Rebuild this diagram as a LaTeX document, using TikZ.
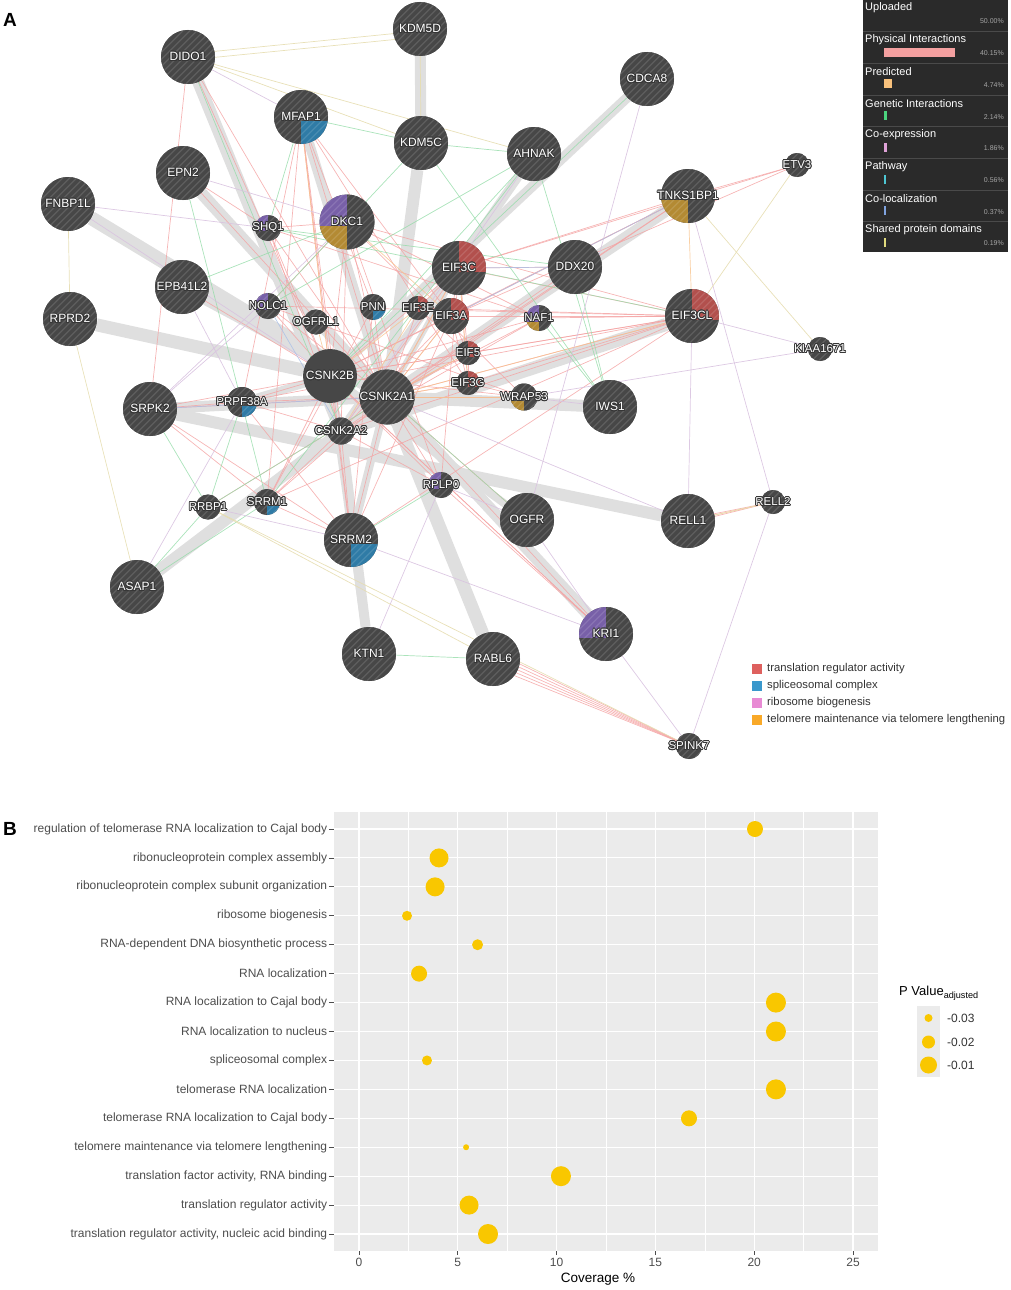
\documentclass[tikz,border=0pt]{standalone}
\usepackage{fontspec}
\setmainfont{Liberation Sans}
\usepackage[copies]{contour}
\contourlength{0.8pt}
\usetikzlibrary{backgrounds}

\definecolor{nodegray}{HTML}{474747}
\definecolor{halo}{HTML}{363636}
\definecolor{bandgray}{HTML}{DFDFDF}
\definecolor{physc}{HTML}{F4A3A3}
\definecolor{predc}{HTML}{F8C48E}
\definecolor{genetc}{HTML}{95DCA9}
\definecolor{coexpc}{HTML}{D9C3E0}
\definecolor{colocc}{HTML}{A9C0E8}
\definecolor{domainc}{HTML}{E6DDB0}
\definecolor{qred}{HTML}{B2504D}
\definecolor{qblue}{HTML}{2F7BA6}
\definecolor{qpurple}{HTML}{7860A8}
\definecolor{qgold}{HTML}{B38A33}
\definecolor{legbg}{HTML}{2A2A2A}
\definecolor{legline}{HTML}{4A4A4A}
\definecolor{barphys}{HTML}{F4A0A0}
\definecolor{barpred}{HTML}{F8C17C}
\definecolor{bargenet}{HTML}{4BD47E}
\definecolor{barcoexp}{HTML}{E0A3D8}
\definecolor{barpath}{HTML}{4DC6D3}
\definecolor{barcoloc}{HTML}{7FA3DF}
\definecolor{bardomain}{HTML}{E0DA7E}
\definecolor{lred}{HTML}{DE605E}
\definecolor{lblue}{HTML}{3A98CC}
\definecolor{lpink}{HTML}{E88AD4}
\definecolor{lorange}{HTML}{F9A928}
\definecolor{panelbg}{HTML}{EBEBEB}
\definecolor{dotc}{HTML}{F9C700}
\definecolor{axisgray}{HTML}{4D4D4D}

\newcommand\gl[1]{\makebox[0pt]{\contour{halo}{#1}}}

\tikzset{
  qtr/.store in=\qtr, qtl/.store in=\qtl, qbl/.store in=\qbl, qbr/.store in=\qbr,
  qtr=nodegray, qtl=nodegray, qbl=nodegray, qbr=nodegray,
  hatch/.style={white, opacity=0.13, line width=1.3pt},
  gnode/.style={circle, fill=nodegray, text=white, inner sep=0pt,
    path picture={
      \begin{scope}[shift={(path picture bounding box.center)}]
        \fill[\qtr] (0,0) rectangle (32,32);
        \fill[\qtl] (0,0) rectangle (-32,32);
        \fill[\qbl] (0,0) rectangle (-32,-32);
        \fill[\qbr] (0,0) rectangle (32,-32);
        \foreach \k in {-63,-56,...,63} \draw[hatch] (\k-34,-34) -- (\k+34,34);
      \end{scope}}},
  bignode/.style={gnode, minimum size=54, font=\fontsize{12}{14}\selectfont},
  smallnode/.style={gnode, minimum size=26, font=\fontsize{11.5}{13}\selectfont}
}

\begin{document}
\begin{tikzpicture}[x=1pt, y=1pt,
  band/.style={draw=bandgray, line width=#1},
  phys/.style={draw=physc, line width=0.7pt, opacity=0.8},
  pred/.style={draw=predc, line width=0.7pt, opacity=0.8},
  genet/.style={draw=genetc, line width=0.7pt, opacity=0.8},
  coexp/.style={draw=coexpc, line width=0.7pt, opacity=0.9},
  coloc/.style={draw=colocc, line width=0.7pt, opacity=0.8},
  shareddom/.style={draw=domainc, line width=0.7pt, opacity=0.9},
  legtext/.style={anchor=west, text=white, font=\fontsize{11}{13}\selectfont, inner sep=0pt},
  legpct/.style={anchor=east, text=gray!70, font=\fontsize{7}{8}\selectfont, inner sep=0pt},
  keytext/.style={anchor=west, text=black!80, font=\fontsize{11.3}{13}\selectfont, inner sep=0pt},
  golab/.style={anchor=east, text=axisgray, font=\fontsize{12}{14}\selectfont, inner sep=0pt},
  ticklab/.style={anchor=north, text=axisgray, font=\fontsize{12}{14}\selectfont, inner sep=0pt},
  majorgrid/.style={draw=white, line width=1.1pt},
  minorgrid/.style={draw=white, line width=0.5pt},
  axistick/.style={draw=axisgray, line width=0.8pt},
  panellab/.style={anchor=west, font=\fontsize{19}{22}\bfseries\selectfont, inner sep=0pt}]
\useasboundingbox (0,0) rectangle (1010,-1290);

\node[panellab] (A) at (3,-20) {A};
\node[panellab] (B) at (3,-829) {B};

% network: large nodes
\node[bignode] (dido1) at (188,-57) {\gl{DIDO1}};
\node[bignode] (kdm5d) at (420,-29) {\gl{KDM5D}};
\node[bignode, qbr=qblue] (mfap1) at (301,-117) {\gl{MFAP1}};
\node[bignode] (kdm5c) at (421,-143) {\gl{KDM5C}};
\node[bignode] (cdca8) at (647,-79) {\gl{CDCA8}};
\node[bignode] (ahnak) at (534,-154) {\gl{AHNAK}};
\node[bignode] (epn2) at (183,-173) {\gl{EPN2}};
\node[bignode] (fnbp1l) at (68,-204) {\gl{FNBP1L}};
\node[bignode, minimum size=55, qtl=qpurple, qbl=qgold] (dkc1) at (347,-222) {\gl{DKC1}};
\node[bignode, qbl=qgold] (tnks1bp1) at (688,-196) {\gl{TNKS1BP1}};
\node[bignode, qtr=qred] (eif3c) at (459,-268) {\gl{EIF3C}};
\node[bignode] (ddx20) at (575,-267) {\gl{DDX20}};
\node[bignode] (epb41l2) at (182,-287) {\gl{EPB41L2}};
\node[bignode] (rprd2) at (70,-319) {\gl{RPRD2}};
\node[bignode, qtr=qred] (eif3cl) at (692,-316) {\gl{EIF3CL}};
\node[bignode, path picture={}] (csnk2b) at (330,-376) {\gl{CSNK2B}};
\node[bignode, minimum size=55] (csnk2a1) at (387,-397) {\gl{CSNK2A1}};
\node[bignode] (srpk2) at (150,-409) {\gl{SRPK2}};
\node[bignode] (iws1) at (610,-407) {\gl{IWS1}};
\node[bignode] (ogfr) at (527,-520) {\gl{OGFR}};
\node[bignode] (rell1) at (688,-521) {\gl{RELL1}};
\node[bignode, qbr=qblue] (srrm2) at (351,-540) {\gl{SRRM2}};
\node[bignode] (asap1) at (137,-587) {\gl{ASAP1}};
\node[bignode, qtl=qpurple] (kri1) at (606,-634) {\gl{KRI1}};
\node[bignode] (ktn1) at (369,-654) {\gl{KTN1}};
\node[bignode] (rabl6) at (493,-659) {\gl{RABL6}};

% network: small nodes
\node[smallnode, qtl=qpurple] (shq1) at (268,-228) {\gl{SHQ1}};
\node[smallnode, qtl=qpurple] (nolc1) at (268,-306) {\gl{NOLC1}};
\node[smallnode, minimum size=25] (ogfrl1) at (316,-322) {\gl{OGFRL1}};
\node[smallnode, qbr=qblue] (pnn) at (373,-307) {\gl{PNN}};
\node[smallnode, minimum size=24, qtr=qred] (eif3e) at (418,-308) {\gl{EIF3E}};
\node[smallnode, minimum size=36, qtr=qred] (eif3a) at (451,-316) {\gl{EIF3A}};
\node[smallnode, qtl=qpurple, qbl=qgold] (naf1) at (539,-318) {\gl{NAF1}};
\node[smallnode, minimum size=24, qtr=qred] (eif5) at (468,-353) {\gl{EIF5}};
\node[smallnode, minimum size=24, qtr=qred] (eif3g) at (468,-383) {\gl{EIF3G}};
\node[smallnode, minimum size=27, qbl=qgold] (wrap53) at (524,-397) {\gl{WRAP53}};
\node[smallnode, minimum size=30, qbr=qblue] (prpf38a) at (242,-402) {\gl{PRPF38A}};
\node[smallnode, minimum size=27] (csnk2a2) at (341,-431) {\gl{CSNK2A2}};
\node[smallnode, qtl=qpurple] (rplp0) at (441,-485) {\gl{RPLP0}};
\node[smallnode, minimum size=25] (rrbp1) at (208,-507) {\gl{RRBP1}};
\node[smallnode, qbr=qblue] (srrm1) at (267,-502) {\gl{SRRM1}};
\node[smallnode, minimum size=24] (etv3) at (797,-165) {\gl{ETV3}};
\node[smallnode, minimum size=24] (kiaa1671) at (820,-349) {\gl{KIAA1671}};
\node[smallnode, minimum size=24] (rell2) at (773,-502) {\gl{RELL2}};
\node[smallnode] (spink7) at (689,-746) {\gl{SPINK7}};

\begin{scope}[on background layer]
  % weighted gray bands
  \foreach \a/\b/\w in {dido1/csnk2a2/12, kdm5d/kdm5c/11, kdm5c/csnk2a1/12, mfap1/csnk2a1/10,
      cdca8/csnk2b/10, ahnak/csnk2a2/9, tnks1bp1/csnk2a1/12, ddx20/csnk2a1/10,
      eif3cl/csnk2a2/13, iws1/csnk2a1/12, epn2/csnk2a1/12, fnbp1l/csnk2a1/14,
      epb41l2/csnk2a1/11, rprd2/csnk2b/13, srpk2/csnk2a1/11, asap1/csnk2a1/12,
      rell1/srpk2/12, kri1/csnk2a1/12, ogfr/csnk2b/8, rabl6/csnk2a1/13,
      ktn1/csnk2a2/10, ktn1/csnk2b/8, srrm2/csnk2a1/8, prpf38a/csnk2b/8, eif3c/csnk2a1/6}
    \draw[band=\w pt] (\a) -- (\b);
  % physical interactions
  \foreach \b in {dkc1,mfap1,shq1,nolc1,pnn,eif3c,eif3a,eif3e,eif5,eif3g,naf1,wrap53,prpf38a,
      srrm1,srrm2,rplp0,srpk2,tnks1bp1,eif3cl,kri1,ogfr,rrbp1,epn2,dido1,ddx20}
    \draw[phys] (csnk2a1) -- (\b);
  \foreach \b in {dkc1,mfap1,shq1,nolc1,eif3c,eif3a,naf1,prpf38a,srrm1,srrm2,srpk2,eif3cl,
      tnks1bp1,rplp0,kri1,dido1,epb41l2,wrap53,eif5}
    \draw[phys] (csnk2b) -- (\b);
  \foreach \b in {mfap1,dkc1,eif3c,eif3a,srrm2,srrm1,prpf38a,eif3cl,rplp0,shq1,naf1,tnks1bp1}
    \draw[phys] (csnk2a2) -- (\b);
  \foreach \a/\b in {eif3c/eif3a, eif3c/eif3e, eif3c/eif5, eif3c/eif3g, eif3a/eif3e, eif3a/eif5,
      eif3a/eif3g, eif3e/eif5, eif5/eif3g, eif3c/eif3cl, eif3a/eif3cl, eif3e/eif3cl, eif5/eif3cl,
      eif3g/eif3cl, eif3c/tnks1bp1, eif3a/tnks1bp1, eif3c/etv3, eif3a/etv3, tnks1bp1/etv3,
      eif3c/ddx20, naf1/eif3cl, naf1/dkc1, dkc1/shq1, dkc1/nolc1, dkc1/wrap53, dkc1/rplp0,
      mfap1/srrm2, mfap1/srrm1, mfap1/prpf38a, mfap1/pnn, pnn/srrm2, pnn/srrm1, srrm1/srrm2,
      srrm2/prpf38a, srpk2/srrm1, srpk2/srrm2, srpk2/prpf38a, rplp0/kri1, rplp0/eif3c,
      dido1/srpk2, epn2/shq1, srrm2/eif3cl, nolc1/eif3cl, mfap1/eif3a, dkc1/eif3cl,
      nolc1/wrap53, shq1/naf1, eif3g/wrap53, prpf38a/eif3cl, srrm2/eif3a, srrm1/eif3cl,
      mfap1/eif3g, kri1/csnk2b}
    \draw[phys] (\a) -- (\b);
  \foreach \s in {-8,-4,0,4,8}
    \draw[phys] ([yshift=\s pt]rabl6.center) -- (spink7.center);
  \draw[phys] ([yshift=2pt]rell1.center) -- (rell2.center);
  \draw[phys] ([yshift=-2pt]rell1.center) -- (rell2.center);
  % predicted
  \foreach \a/\b in {csnk2a1/eif3c, csnk2a1/eif3a, csnk2a1/eif5, csnk2a1/eif3g, csnk2a1/wrap53,
      csnk2a2/eif3e, mfap1/csnk2b, tnks1bp1/eif3cl, dkc1/eif3a, ogfrl1/csnk2b, eif3c/eif3g,
      csnk2b/eif3e, rell1/rell2, csnk2a1/eif3cl}
    \draw[pred] (\a) -- (\b);
  % genetic interactions
  \foreach \a/\b in {kdm5c/ahnak, ahnak/iws1, ddx20/iws1, naf1/iws1, asap1/rrbp1, asap1/srrm1,
      srpk2/rrbp1, ktn1/rabl6, rplp0/srrm2, shq1/mfap1, dido1/csnk2a2, epb41l2/dkc1,
      prpf38a/rrbp1, srrm1/ahnak, mfap1/kdm5c, nolc1/ahnak, cdca8/csnk2b, shq1/ddx20,
      epn2/srrm1, iws1/kdm5c, shq1/eif3cl, rrbp1/csnk2a1, ogfr/csnk2a1, ahnak/csnk2b,
      nolc1/kdm5c}
    \draw[genet] (\a) -- (\b);
  % co-expression
  \foreach \a/\b in {fnbp1l/shq1, dido1/mfap1, cdca8/ogfr, tnks1bp1/rell2, rell2/spink7,
      kri1/spink7, kri1/srrm2, epn2/dkc1, srpk2/dkc1, ahnak/csnk2a2, kiaa1671/wrap53,
      kiaa1671/eif3cl, rrbp1/srrm2, ogfr/rplp0, ogfr/kri1, rell1/csnk2a1, epb41l2/prpf38a,
      ktn1/rplp0, fnbp1l/csnk2b, srpk2/nolc1, asap1/prpf38a, iws1/wrap53, eif3cl/rell1}
    \draw[coexp] (\a) -- (\b);
  % shared protein domains
  \foreach \a/\b in {dido1/kdm5c, kdm5d/kdm5c, fnbp1l/rprd2, rprd2/asap1, rrbp1/spink7,
      rrbp1/rabl6, eif3cl/etv3, tnks1bp1/kiaa1671, dido1/ahnak, rell1/rell2}
    \draw[shareddom] (\a) -- (\b);
  \draw[shareddom] ([yshift=3pt]dido1.center) -- ([yshift=-2pt]kdm5d.center);
  \draw[shareddom] ([yshift=-3pt]dido1.center) -- ([yshift=-8pt]kdm5d.center);
  % co-localization
  \foreach \a/\b in {eif3c/ddx20, srpk2/csnk2a1, tnks1bp1/eif3a, nolc1/csnk2a2}
    \draw[coloc] (\a) -- (\b);
\end{scope}

% network type legend
\fill[legbg] (863,0) rectangle (1008,-252);
\foreach \k in {1,...,7}
  \draw[legline, line width=1pt] (863,-31.7*\k) -- (1008,-31.7*\k);
\foreach \t [count=\k from 0] in {Uploaded, Physical Interactions, Predicted, Genetic Interactions,
    Co-expression, Pathway, Co-localization, Shared protein domains}
  \node[legtext] (net\k) at (865,-8-31.7*\k) {\t};
\foreach \p [count=\k from 0] in {50.00\%, 40.15\%, 4.74\%, 2.14\%, 1.86\%, 0.56\%, 0.37\%, 0.19\%}
  \node[legpct] (pct\k) at (1004,-21.5-31.7*\k) {\p};
\foreach \c/\w [count=\k] in {barphys/71, barpred/8, bargenet/3, barcoexp/3, barpath/2,
    barcoloc/2, bardomain/2}
  \fill[\c] (884,-16-31.7*\k) rectangle ++(\w,-9);

% function legend
\foreach \c/\t [count=\k from 0] in {lred/translation regulator activity, lblue/spliceosomal complex,
    lpink/ribosome biogenesis, lorange/telomere maintenance via telomere lengthening}
  {\fill[\c] (752,-664-17*\k) rectangle ++(10,-10);
   \node[keytext] (fn\k) at (767,-669-17*\k) {\t};}

% enrichment dot plot
\begin{scope}[shift={(359,-829)}, x=19.76pt, y=-28.93pt]
  \fill[panelbg] (-1.27,-0.6) rectangle (26.27,14.6);
  \foreach \v in {2.5,7.5,...,22.5}
    \draw[minorgrid] (\v,-0.6) -- (\v,14.6);
  \foreach \v in {0,5,...,25}
    \draw[majorgrid] (\v,-0.6) -- (\v,14.6);
  \foreach \i in {0,...,14}
    \draw[majorgrid] (-1.27,\i) -- (26.27,\i);
  \foreach \v in {0,5,...,25}
    {\draw[axistick] (\v,14.6) -- (\v,14.74);
     \node[ticklab] (xt\v) at (\v,14.82) {\v};}
  \foreach \t [count=\i from 0] in {regulation of telomerase RNA localization to Cajal body,
      ribonucleoprotein complex assembly, ribonucleoprotein complex subunit organization,
      ribosome biogenesis, RNA-dependent DNA biosynthetic process, RNA localization,
      RNA localization to Cajal body, RNA localization to nucleus, spliceosomal complex,
      telomerase RNA localization, telomerase RNA localization to Cajal body,
      telomere maintenance via telomere lengthening, {translation factor activity, RNA binding},
      translation regulator activity, {translation regulator activity, nucleic acid binding}}
    {\draw[axistick] (-1.52,\i) -- (-1.27,\i);
     \node[golab] (go\i) at (-1.6,\i) {\t};}
  \foreach \i/\c/\r in {0/20.04/8, 1/4.05/9.5, 2/3.85/9.5, 3/2.43/5, 4/6.0/5.5, 5/3.04/8,
      6/21.1/10, 7/21.1/10, 8/3.44/5, 9/21.1/10, 10/16.7/8, 11/5.42/3, 12/10.22/10,
      13/5.57/9.5, 14/6.53/10}
    \fill[dotc] (\c,\i) circle (\r pt);
\end{scope}
\node[anchor=north, font=\fontsize{13.5}{15}\selectfont] (xtitle) at (598,-1270) {Coverage \%};

% p value legend
\node[anchor=west, font=\fontsize{13}{15}\selectfont, inner sep=0pt] (ptitle) at (899,-993)
  {P Value\textsubscript{adjusted}};
\fill[panelbg] (917,-1006) rectangle (940,-1077);
\foreach \y/\r/\t [count=\k] in {1018/4/-0.03, 1042/6.5/-0.02, 1065/8.5/-0.01}
  {\fill[dotc] (928.5,-\y) circle (\r pt);
   \node[keytext, font=\fontsize{12}{14}\selectfont] (pv\k) at (947,-\y) {\t};}
\end{tikzpicture}
\end{document}
